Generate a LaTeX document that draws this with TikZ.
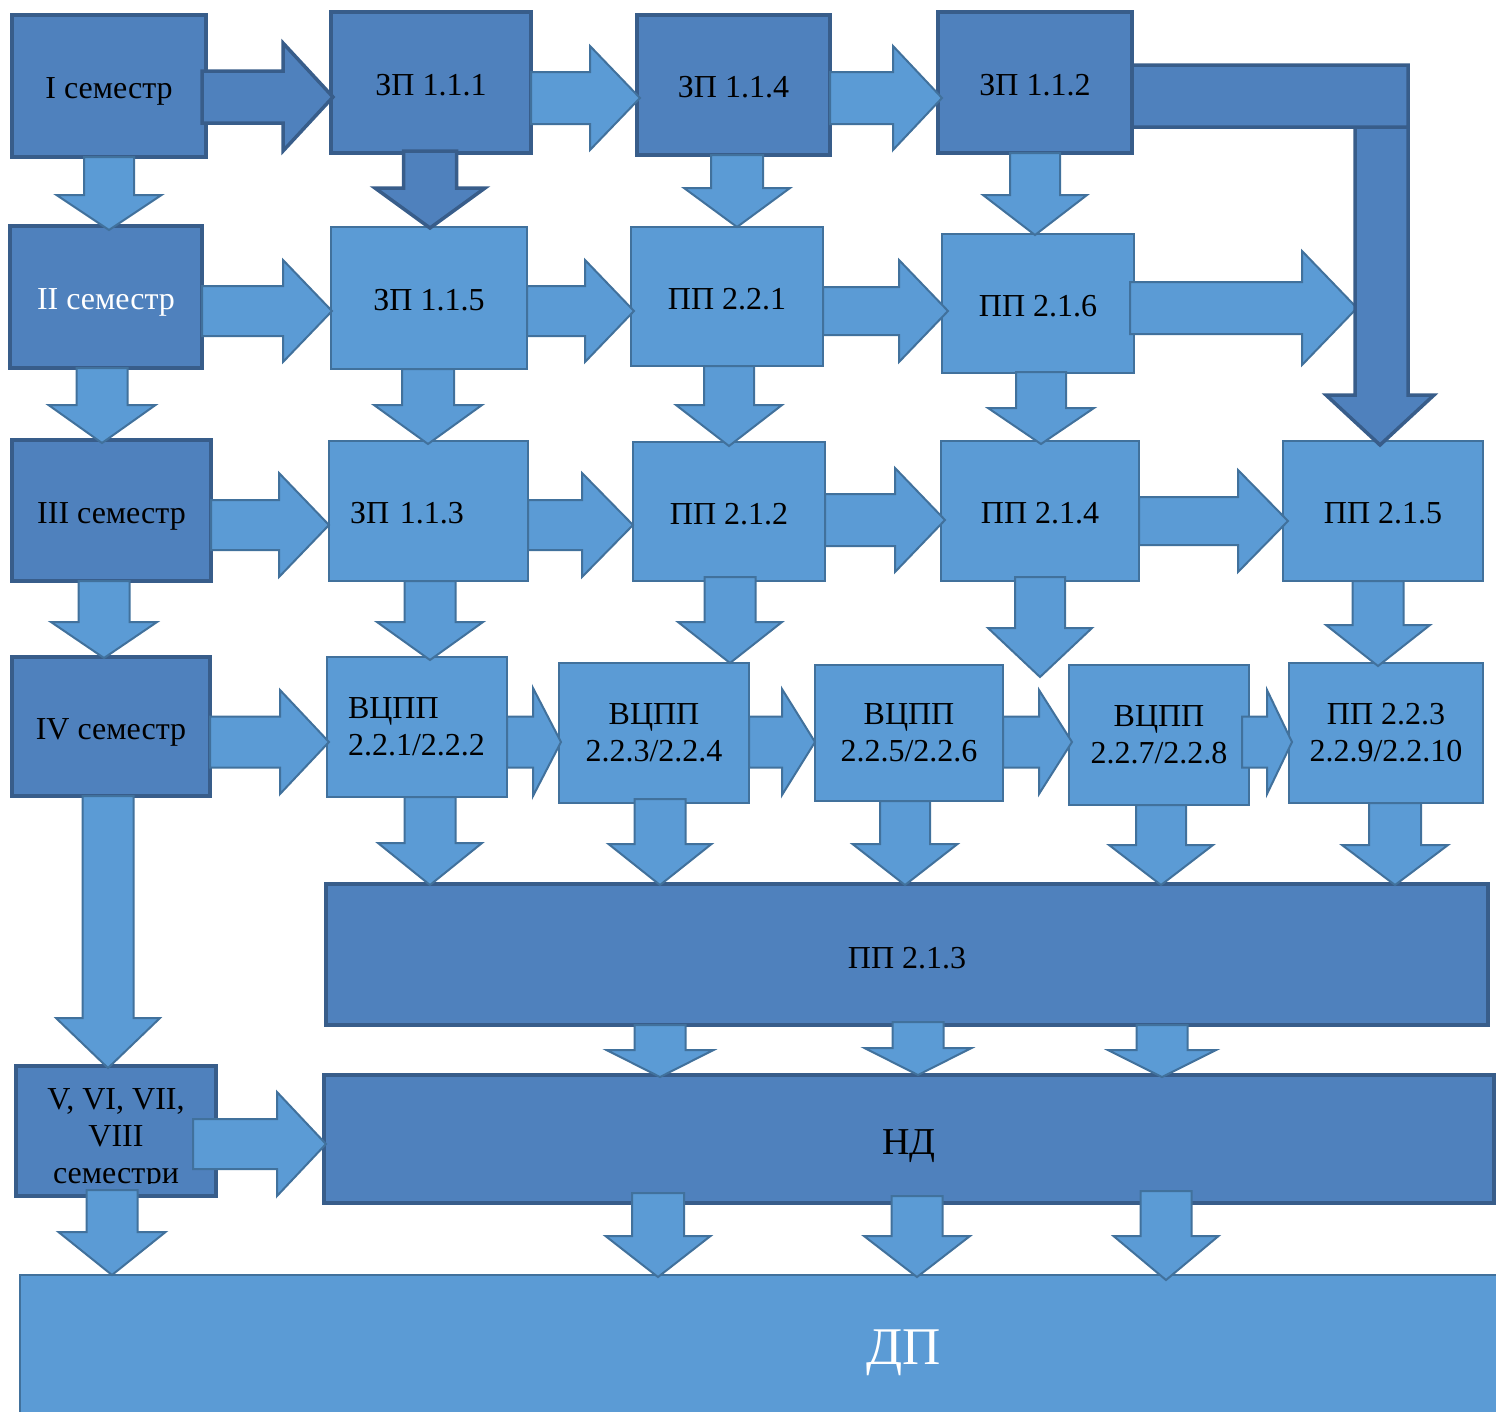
\documentclass[tikz,border=0pt]{standalone}
\usepackage{fontspec}
\setmainfont{Liberation Serif}
\usetikzlibrary{calc}
\definecolor{dfill}{HTML}{4F81BD}
\definecolor{dline}{HTML}{385D8A}
\definecolor{lfill}{HTML}{5B9BD5}
\definecolor{lline}{HTML}{41719C}
\tikzset{
 txtfont/.style={font=\fontsize{32}{37}\selectfont},
 dbox/.style={rectangle, fill=dfill, draw=dline, line width=3.5pt, inner sep=0pt, outer sep=0pt, anchor=north west, align=center, txtfont},
 lbox/.style={rectangle, fill=lfill, draw=lline, line width=2pt, inner sep=0pt, outer sep=0pt, anchor=north west, align=center, txtfont},
 oneline/.style={text height=32pt, text depth=7pt},
 darr/.style={fill=dfill, draw=dline, line width=3.5pt, line join=miter},
 larr/.style={fill=lfill, draw=lline, line width=2pt, line join=miter},
 lbl/.style={inner sep=0pt, outer sep=0pt, align=center, txtfont},
 tipmark/.style={shape=rectangle, inner sep=0pt, outer sep=0pt, minimum size=0pt},
}
% box: name, style, x0, y0, x1, y1, text
\newcommand\bx[7]{\node[#2, minimum width={#5pt-#3pt}, minimum height={#6pt-#4pt}] (#1) at (#3,#4) {#7};}
% horizontal block arrow: style, from, to, y, inset, head length, shaft half, head half, tip extension
\newcommand\harr[9]{\path[#1] let \p1=(#2.east), \p2=(#3.west) in
 ({\x1-#5pt},{-#4pt+#7pt}) -- ({\x2+#9pt-#6pt},{-#4pt+#7pt}) -- ({\x2+#9pt-#6pt},{-#4pt+#8pt})
 -- ({\x2+#9pt},{-#4pt}) -- ({\x2+#9pt-#6pt},{-#4pt-#8pt}) -- ({\x2+#9pt-#6pt},{-#4pt-#7pt})
 -- ({\x1-#5pt},{-#4pt-#7pt}) -- cycle;}
% vertical block arrow: style, from, to, x, inset, head length, shaft half, head half, tip extension
\newcommand\varr[9]{\path[#1] let \p1=(#2.south), \p2=(#3.north) in
 ({#4pt-#7pt},{\y1+#5pt}) -- ({#4pt-#7pt},{\y2-#9pt+#6pt}) -- ({#4pt-#8pt},{\y2-#9pt+#6pt})
 -- ({#4pt},{\y2-#9pt}) -- ({#4pt+#8pt},{\y2-#9pt+#6pt}) -- ({#4pt+#7pt},{\y2-#9pt+#6pt})
 -- ({#4pt+#7pt},{\y1+#5pt}) -- cycle;}
\begin{document}
\begin{tikzpicture}[x=1pt,y=-1pt]
\useasboundingbox (0,0) rectangle (1496,1411);
\clip (0,0) rectangle (1496,1411);
\fill[white] (0,0) rectangle (1496,1411);
% row 1
\bx{b1}{dbox,oneline}{12}{15}{206}{157}{I семестр}
\bx{z111}{dbox,oneline}{331}{12}{531}{153}{ЗП 1.1.1}
\bx{z114}{dbox,oneline}{637}{15}{830}{155}{ЗП 1.1.4}
\bx{z112}{dbox,oneline}{938}{12}{1132}{153}{ЗП 1.1.2}
% row 2
\bx{b2}{dbox,oneline,text=white}{10}{226}{202}{368}{II семестр}
\bx{z115}{lbox,oneline}{331}{227}{527}{369}{ЗП 1.1.5}
\bx{p221}{lbox,oneline}{631}{227}{823}{366}{ПП 2.2.1}
\bx{p216}{lbox,oneline}{942}{234}{1134}{373}{ПП 2.1.6}
% row 3
\bx{b3}{dbox,oneline}{12}{440}{211}{581}{III семестр}
\bx{z113}{lbox,oneline,text width=157pt,align=left}{329}{441}{528}{581}{\mbox{ЗП 1.1.3}}
\bx{p212}{lbox,oneline}{633}{442}{825}{581}{ПП 2.1.2}
\bx{p214}{lbox,oneline}{941}{441}{1139}{581}{ПП 2.1.4}
\bx{p215}{lbox,oneline}{1283}{441}{1483}{581}{ПП 2.1.5}
% row 4
\bx{b4}{dbox,oneline}{12}{657}{210}{796}{IV семестр}
\bx{v1}{lbox,text width=138pt,align=left}{327}{657}{507}{797}{\mbox{ВЦПП}\\\mbox{2.2.1/2.2.2}}
\bx{v2}{lbox}{559}{663}{749}{803}{ВЦПП\\2.2.3/2.2.4}
\bx{v3}{lbox}{815}{665}{1003}{801}{ВЦПП\\2.2.5/2.2.6}
\bx{v4}{lbox}{1069}{665}{1249}{805}{ВЦПП\\2.2.7/2.2.8}
\bx{p223}{lbox}{1289}{663}{1483}{803}{ПП 2.2.3\\2.2.9/2.2.10}
% wide bars
\bx{p213}{dbox,text height=32pt,text depth=4pt}{326}{884}{1488}{1025}{ПП 2.1.3}
\bx{nd}{dbox,font=\fontsize{38}{44}\selectfont,text height=39pt,text depth=8pt}{324}{1075}{1494}{1203}{НД}
\bx{b5}{dbox}{16}{1066}{216}{1196}{}
\bx{dp}{lbox}{20}{1275}{1510}{1425}{}
\node[lbl,text=white,font=\fontsize{53}{60}\selectfont] (dpt) at (904,1353) {ДП};
\begin{scope}
\clip (16,1066) rectangle (216,1183);
\node[lbl] (b5t) at (116,1139) {V, VI, VII,\\VIII\\семестри};
\end{scope}
% free ends
\node[tipmark] (t216) at (1357,308) {};
\node[tipmark] (t214) at (1040,677) {};
% horizontal arrows
\harr{darr}{b1}{z111}{97}{4}{50}{26}{54}{2}
\harr{larr}{z111}{z114}{98}{0}{50}{26}{52}{3}
\harr{larr}{z114}{z112}{98}{0}{49}{26}{52}{4}
\harr{larr}{b2}{z115}{311}{0}{49}{25}{51}{1}
\harr{larr}{z115}{p221}{311}{0}{49}{25}{51}{3}
\harr{larr}{p221}{p216}{311}{0}{49}{24}{51}{6}
\harr{larr}{p216}{t216}{308}{4}{55}{26}{57}{0}
\harr{larr}{b3}{z113}{525}{0}{50}{25}{52}{0}
\harr{larr}{z113}{p212}{525}{0}{51}{25}{52}{0}
\harr{larr}{p212}{p214}{520}{0}{50}{26}{52}{4}
\harr{larr}{p214}{p215}{521}{0}{50}{24}{51}{5}
\harr{larr}{b4}{v1}{742}{0}{49}{25.5}{52}{2}
\harr{larr}{v1}{v2}{742}{0}{28}{25.5}{54}{2}
\harr{larr}{v2}{v3}{742}{0}{33}{25.5}{53}{0}
\harr{larr}{v3}{v4}{742}{0}{33}{25.5}{52}{3}
\harr{larr}{v4}{p223}{742}{7}{25}{25.5}{52}{3}
\harr{larr}{b5}{nd}{1144}{23}{49}{25}{52}{2}
% vertical arrows
\varr{larr}{b1}{b2}{109}{0}{35}{25}{52.5}{4}
\varr{darr}{z111}{z115}{430}{2}{40}{26.5}{55}{1}
\varr{larr}{z114}{p221}{737}{0}{39}{26}{53}{0}
\varr{larr}{z112}{p216}{1035}{0}{40}{25}{52}{1}
\varr{larr}{b2}{b3}{102}{0}{38}{25.5}{53.5}{3}
\varr{larr}{z115}{z113}{428}{0}{39}{26}{54}{3}
\varr{larr}{p221}{p212}{729}{0}{41}{25}{53}{4}
\varr{larr}{p216}{p214}{1041}{1}{36}{25}{53}{3}
\varr{larr}{b3}{b4}{104}{0}{36}{25.5}{53}{1}
\varr{larr}{z113}{v1}{430}{0}{38}{25.5}{53}{3}
\varr{larr}{p212}{v2}{730}{4}{41}{25.5}{52}{0}
\varr{larr}{p214}{t214}{1040}{4}{49}{25}{52}{0}
\varr{larr}{p215}{p223}{1378}{0}{41}{25.5}{52}{3}
\varr{larr}{b4}{b5}{108}{0}{50}{25.5}{52}{2}
\varr{larr}{v1}{p213}{430}{0}{42}{25.5}{52}{1}
\varr{larr}{v2}{p213}{660}{4}{41}{25.5}{51.5}{1}
\varr{larr}{v3}{p213}{905}{0}{41}{25}{52.5}{1}
\varr{larr}{v4}{p213}{1161}{0}{40}{25}{52}{1}
\varr{larr}{p223}{p213}{1395}{0}{40}{26}{53}{1}
\varr{larr}{p213}{nd}{660}{0}{27}{25.5}{53.5}{2}
\varr{larr}{p213}{nd}{918}{3}{27}{25.5}{53.5}{0}
\varr{larr}{p213}{nd}{1162}{0}{27}{25.5}{54}{2}
\varr{larr}{b5}{dp}{112}{6}{43}{25.5}{53.5}{0}
\varr{larr}{nd}{dp}{658}{10}{41}{26}{52.5}{2}
\varr{larr}{nd}{dp}{917}{7}{41}{25.5}{53}{2}
\varr{larr}{nd}{dp}{1166}{12}{44}{25.5}{52.5}{5}
% bent arrow ZP 1.1.2 -> PP 2.1.5
\path[darr] let \p1=(z112.east), \p2=(p215.north) in
 (\x1,-65pt) -- (1408pt,-65pt) -- (1408pt,{\y2+46pt}) -- (1434pt,{\y2+46pt})
 -- (1380pt,{\y2-4pt}) -- (1326pt,{\y2+46pt}) -- (1355pt,{\y2+46pt})
 -- (1355pt,-127pt) -- (\x1,-127pt) -- cycle
 (1355pt,-127pt) -- (1408pt,-127pt);
\end{tikzpicture}
\end{document}
